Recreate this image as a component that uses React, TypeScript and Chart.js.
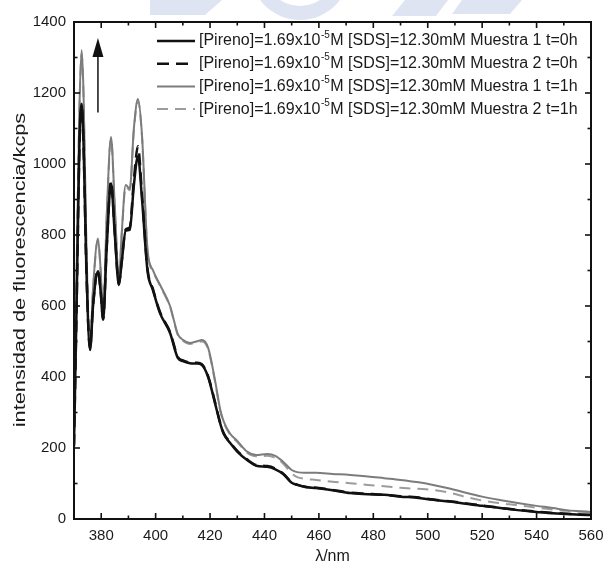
import React, { useEffect, useRef } from "react";
import { Chart, registerables } from "chart.js";

Chart.register(...registerables);

// ---------------- data ----------------
const WAVELENGTHS = [
  370, 371, 372, 372.8, 373.5, 374.5, 375.9, 377, 378.8, 379.8, 380.7, 382, 383.6, 385, 386.5, 387.5,
  389, 390.5, 392, 393.5, 395, 397, 399, 401.6, 405.3, 408.2, 410, 412.6, 415, 417, 419.3, 421.8,
  423.7, 425, 427.4, 430, 433.6, 437, 441, 444, 447, 450, 452, 455, 459, 465, 471.5, 478, 484, 490,
  496, 502, 508, 514, 520, 526, 533, 540, 546, 551, 556, 560,
];

// Muestra 1 t=0h (black solid)
const M1_T0 = [
  210, 620, 1060, 1170, 1060, 720, 476, 600, 698, 640, 561, 760, 946, 800, 659, 720,
  812, 815, 940, 1022, 900, 700, 645, 580, 524, 453, 445, 439, 438, 434, 400, 327,
  270, 240, 214, 190, 166, 150, 147, 140, 126, 102, 96, 90, 87, 81, 73, 70, 68, 63,
  60, 54, 49, 43, 37, 32, 25, 20, 16, 14, 12, 11,
];

// Muestra 2 t=0h (black dashed)
const M2_T0 = [
  205, 610, 1050, 1160, 1055, 715, 478, 602, 702, 642, 563, 765, 952, 805, 662, 724,
  816, 822, 955, 1050, 915, 705, 648, 583, 527, 456, 447, 441, 440, 436, 402, 330,
  272, 242, 216, 192, 168, 152, 149, 142, 127, 104, 97, 91, 88, 82, 74, 71, 68, 64,
  61, 55, 50, 44, 38, 32, 26, 21, 17, 15, 13, 12,
];

// Muestra 1 t=1h (grey solid)
const M1_T1 = [
  240, 720, 1160, 1321, 1200, 790, 485, 650, 790, 700, 570, 850, 1076, 880, 673, 800,
  941, 930, 1100, 1183, 1080, 760, 701, 660, 600, 520, 505, 496, 500, 504, 482, 392,
  310, 275, 240, 220, 190, 180, 183, 178, 160, 138, 132, 130, 130, 127, 124, 120, 115, 110,
  104, 96, 86, 74, 63, 54, 45, 37, 31, 25, 22, 20,
];

// Muestra 2 t=1h (grey dashed)
const M2_T1 = [
  235, 710, 1150, 1310, 1190, 785, 483, 645, 785, 697, 568, 845, 1070, 875, 670, 796,
  936, 926, 1094, 1178, 1075, 755, 698, 657, 597, 517, 502, 493, 497, 500, 478, 388,
  306, 272, 237, 217, 187, 177, 178, 172, 155, 128, 118, 113, 110, 105, 101, 96, 92, 88,
  85, 82, 74, 62, 52, 45, 39, 32, 27, 23, 21, 20,
];

const X_TICKS = [380, 400, 420, 440, 460, 480, 500, 520, 540, 560];
const X_MINOR = [370, 390, 410, 430, 450, 470, 490, 510, 530, 550];
const Y_TICKS = [0, 200, 400, 600, 800, 1000, 1200, 1400];
const Y_MINOR = [100, 300, 500, 700, 900, 1100, 1300];

const LABEL_PREFIX = "[Pireno]=1.69x10";
const LABEL_SUP = "-5";
const LABEL_SUFFIXES = [
  "M [SDS]=12.30mM Muestra 1 t=0h",
  "M [SDS]=12.30mM Muestra 2 t=0h",
  "M [SDS]=12.30mM Muestra 1 t=1h",
  "M [SDS]=12.30mM Muestra 2 t=1h",
];

const ARROW_X = 378.8;
const ARROW_FROM = 1145;
const ARROW_TO = 1355;

const X_TITLE = "λ/nm";
const Y_TITLE = "intensidad de fluorescencia/kcps";

const FONT = "'Liberation Sans', Arial, Helvetica, sans-serif";

const SERIES = [M1_T0, M2_T0, M1_T1, M2_T1];
const STYLES = [
  { color: "#111111", width: 2.5, dash: [] as number[] },
  { color: "#111111", width: 2.5, dash: [12, 7] },
  { color: "#7c7c7c", width: 2, dash: [] as number[] },
  { color: "#9c9c9c", width: 2, dash: [11, 7] },
];

const decorPlugin = {
  id: "decor",
  beforeDraw(chart: any) {
    const { ctx, width, height } = chart;
    ctx.save();
    ctx.fillStyle = "#ffffff";
    ctx.fillRect(0, 0, width, height);
    // faint watermark at the top of the page
    ctx.fillStyle = "#dfe4f2";
    ctx.beginPath();
    ctx.moveTo(150, 0);
    ctx.lineTo(222, 0);
    ctx.lineTo(205, 15);
    ctx.lineTo(150, 15);
    ctx.closePath();
    ctx.fill();
    ctx.beginPath();
    ctx.arc(300, -30, 50, 0, Math.PI);
    ctx.arc(300, -30, 36, Math.PI, 0, true);
    ctx.closePath();
    ctx.fill();
    ctx.beginPath();
    ctx.moveTo(405, 0);
    ctx.lineTo(448, 0);
    ctx.lineTo(436, 16);
    ctx.lineTo(392, 16);
    ctx.closePath();
    ctx.fill();
    ctx.beginPath();
    ctx.moveTo(462, 0);
    ctx.lineTo(522, 0);
    ctx.lineTo(510, 14);
    ctx.lineTo(452, 14);
    ctx.closePath();
    ctx.fill();
    ctx.restore();
  },
  afterDraw(chart: any) {
    const { ctx, chartArea: a } = chart;
    const xs = chart.scales.x;
    const ys = chart.scales.y;
    ctx.save();
    // frame
    ctx.strokeStyle = "#111";
    ctx.lineWidth = 2;
    ctx.strokeRect(a.left, a.top, a.right - a.left, a.bottom - a.top);
    // ticks (inward, all four sides)
    ctx.lineWidth = 1.6;
    const seg = (x0: number, y0: number, x1: number, y1: number) => {
      ctx.beginPath();
      ctx.moveTo(x0, y0);
      ctx.lineTo(x1, y1);
      ctx.stroke();
    };
    X_TICKS.forEach((v) => {
      const p = xs.getPixelForValue(v);
      seg(p, a.bottom, p, a.bottom - 6);
      seg(p, a.top, p, a.top + 6);
    });
    X_MINOR.forEach((v) => {
      const p = xs.getPixelForValue(v);
      seg(p, a.bottom, p, a.bottom - 3.5);
      seg(p, a.top, p, a.top + 3.5);
    });
    Y_TICKS.forEach((v) => {
      const p = ys.getPixelForValue(v);
      seg(a.left, p, a.left + 6, p);
      seg(a.right, p, a.right - 6, p);
    });
    Y_MINOR.forEach((v) => {
      const p = ys.getPixelForValue(v);
      seg(a.left, p, a.left + 3.5, p);
      seg(a.right, p, a.right - 3.5, p);
    });

    // arrow
    const ax = xs.getPixelForValue(ARROW_X);
    const ay0 = ys.getPixelForValue(ARROW_FROM);
    const ay1 = ys.getPixelForValue(ARROW_TO);
    ctx.strokeStyle = "#111";
    ctx.fillStyle = "#111";
    ctx.lineWidth = 1.5;
    seg(ax, ay0, ax, ay1 + 12);
    ctx.beginPath();
    ctx.moveTo(ax, ay1);
    ctx.lineTo(ax - 5.5, ay1 + 19);
    ctx.lineTo(ax + 5.5, ay1 + 19);
    ctx.closePath();
    ctx.fill();

    // legend inside the plot
    const baseFont = "16px " + FONT;
    const supFont = "10px " + FONT;
    chart.data.datasets.forEach((ds: any, i: number) => {
      const yRow = 41 + i * 22.7;
      const st = STYLES[i];
      ctx.strokeStyle = st.color;
      ctx.lineWidth = st.width;
      ctx.setLineDash(st.dash);
      seg(157, yRow, 195, yRow);
      ctx.setLineDash([]);
      ctx.fillStyle = "#1a1a1a";
      ctx.textBaseline = "middle";
      ctx.textAlign = "left";
      ctx.font = baseFont;
      let tx = 199;
      ctx.fillText(LABEL_PREFIX, tx, yRow);
      tx += ctx.measureText(LABEL_PREFIX).width;
      ctx.font = supFont;
      ctx.fillText(LABEL_SUP, tx + 0.5, yRow - 6);
      tx += ctx.measureText(LABEL_SUP).width + 1;
      ctx.font = baseFont;
      ctx.fillText(LABEL_SUFFIXES[i], tx, yRow);
    });

    // y title (stretched lengthwise like the source figure)
    ctx.save();
    ctx.translate(21, 270);
    ctx.rotate(-Math.PI / 2);
    ctx.scale(1.36, 1);
    ctx.font = "16px " + FONT;
    ctx.fillStyle = "#1a1a1a";
    ctx.textAlign = "center";
    ctx.textBaseline = "middle";
    ctx.fillText(Y_TITLE, 0, 0);
    ctx.restore();

    ctx.restore();
  },
};

export default function App() {
  const ref = useRef<HTMLCanvasElement | null>(null);

  useEffect(() => {
    document.body.style.margin = "0";
    document.body.style.background = "#fff";
    const canvas = ref.current;
    if (!canvas) return;

    const datasets = SERIES.map((arr, i) => ({
      label: LABEL_PREFIX + "⁻⁵" + LABEL_SUFFIXES[i],
      data: WAVELENGTHS.map((w, k) => ({ x: w, y: arr[k] })),
      borderColor: STYLES[i].color,
      borderWidth: STYLES[i].width,
      borderDash: STYLES[i].dash,
      pointRadius: 0,
      fill: false,
      cubicInterpolationMode: "monotone" as const,
    }));

    const chart = new Chart(canvas, {
      type: "line",
      data: { datasets },
      options: {
        animation: false,
        responsive: false,
        devicePixelRatio: 1,
        layout: { padding: { top: 22, right: 12, left: 0, bottom: 0 } },
        plugins: {
          legend: { display: false },
          tooltip: { enabled: false },
          title: { display: false },
        },
        scales: {
          x: {
            type: "linear",
            min: 370,
            max: 560,
            grid: { display: false, drawTicks: false },
            border: { display: false },
            afterBuildTicks: (s: any) => {
              s.ticks = X_TICKS.map((v) => ({ value: v }));
            },
            afterFit: (s: any) => {
              s.height = 51;
              s.paddingLeft = 0;
              s.paddingRight = 0;
            },
            ticks: {
              autoSkip: false,
              maxRotation: 0,
              padding: 8,
              color: "#1a1a1a",
              font: { family: FONT, size: 15 },
              callback: (v: any) => String(v),
            },
            title: {
              display: true,
              text: X_TITLE,
              color: "#1a1a1a",
              font: { family: FONT, size: 16 },
              padding: { top: 0, bottom: 4 },
            },
          },
          y: {
            type: "linear",
            min: 0,
            max: 1400,
            grid: { display: false, drawTicks: false },
            border: { display: false },
            afterBuildTicks: (s: any) => {
              s.ticks = Y_TICKS.map((v) => ({ value: v }));
            },
            afterFit: (s: any) => {
              s.width = 74;
              s.paddingTop = 0;
              s.paddingBottom = 0;
            },
            ticks: {
              autoSkip: false,
              padding: 8,
              color: "#1a1a1a",
              font: { family: FONT, size: 15 },
              callback: (v: any) => String(v),
            },
            title: { display: false },
          },
        },
      },
      plugins: [decorPlugin],
    });

    return () => chart.destroy();
  }, []);

  return (
    <div style={{ width: 603, height: 570 }}>
      <canvas ref={ref} width={603} height={570} style={{ display: "block" }} />
    </div>
  );
}
